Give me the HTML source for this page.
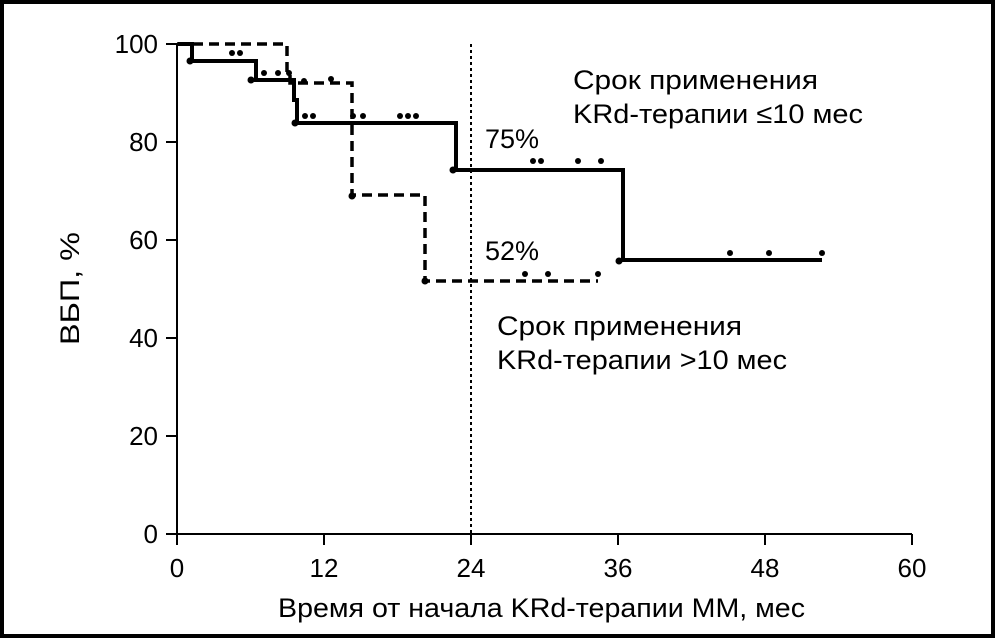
<!DOCTYPE html>
<html><head><meta charset="utf-8"><style>
html,body{margin:0;padding:0;background:#fff}
svg{display:block}
text{font-family:"Liberation Sans",sans-serif;fill:#000}
</style></head><body>
<svg width="995" height="638" viewBox="0 0 995 638" xmlns="http://www.w3.org/2000/svg">
<rect x="2" y="2" width="991" height="634" fill="#fff" stroke="#000" stroke-width="4"/>
<g stroke="#000" stroke-width="2" fill="none">
<line x1="177" y1="44" x2="177" y2="535"/>
<line x1="176" y1="534" x2="912" y2="534"/>
<line x1="166" y1="44" x2="177" y2="44"/>
<line x1="166" y1="142" x2="177" y2="142"/>
<line x1="166" y1="240" x2="177" y2="240"/>
<line x1="166" y1="338" x2="177" y2="338"/>
<line x1="166" y1="436" x2="177" y2="436"/>
<line x1="166" y1="534" x2="177" y2="534"/>
<line x1="177" y1="534" x2="177" y2="545"/>
<line x1="324" y1="534" x2="324" y2="545"/>
<line x1="471" y1="534" x2="471" y2="545"/>
<line x1="618" y1="534" x2="618" y2="545"/>
<line x1="765" y1="534" x2="765" y2="545"/>
<line x1="912" y1="534" x2="912" y2="545"/>
</g>
<line x1="471" y1="44" x2="471" y2="534" stroke="#000" stroke-width="2" stroke-dasharray="3,3"/>
<g font-size="26" text-anchor="end">
<text x="158" y="53">100</text><text x="158" y="151">80</text><text x="158" y="249">60</text>
<text x="158" y="347">40</text><text x="158" y="445">20</text><text x="158" y="543">0</text>
</g>
<g font-size="26" text-anchor="middle">
<text x="177" y="577">0</text><text x="324" y="577">12</text><text x="471" y="577">24</text>
<text x="618" y="577">36</text><text x="765" y="577">48</text><text x="912" y="577">60</text>
</g>
<text x="278" y="617" font-size="27" textLength="527" lengthAdjust="spacingAndGlyphs">Время от начала KRd-терапии ММ, мес</text>
<text transform="translate(79,345) rotate(-90)" font-size="27" textLength="113" lengthAdjust="spacingAndGlyphs">ВБП, %</text>
<g font-size="27">
<text x="573" y="89" textLength="245" lengthAdjust="spacingAndGlyphs">Срок применения</text>
<text x="573" y="123" textLength="290" lengthAdjust="spacingAndGlyphs">KRd-терапии ≤10 мес</text>
<text x="485" y="148">75%</text>
<text x="485" y="260">52%</text>
<text x="497" y="335" textLength="245" lengthAdjust="spacingAndGlyphs">Срок применения</text>
<text x="497" y="369" textLength="290" lengthAdjust="spacingAndGlyphs">KRd-терапии &gt;10 мес</text>
</g>
<polyline fill="none" stroke="#000" stroke-width="4" points="178,44 192,44 192,61 256,61 256,80 294,80 294,100 297,100 297,123 456,123 456,170 623,170 623,260 822,260"/>
<polyline fill="none" stroke="#000" stroke-width="3.5" stroke-dasharray="10,6" points="177,44 287,44 287,72 290,72 290,83 352,83 352,195 425,195 425,281 598,281"/>
<g fill="#000">
<circle cx="190" cy="61" r="3.5"/><circle cx="251" cy="80" r="3.5"/><circle cx="295" cy="123" r="3.5"/>
<circle cx="453" cy="170" r="3.5"/><circle cx="619" cy="261" r="3.5"/>
<circle cx="232" cy="53" r="3"/><circle cx="240" cy="53" r="3"/>
<circle cx="264" cy="73" r="3"/><circle cx="278" cy="73" r="3"/><circle cx="289" cy="73" r="3"/>
<circle cx="304" cy="81" r="3"/><circle cx="331" cy="79" r="3"/>
<circle cx="305" cy="116" r="3"/><circle cx="313" cy="116" r="3"/><circle cx="353" cy="116" r="3"/><circle cx="363" cy="116" r="3"/>
<circle cx="400" cy="116" r="3"/><circle cx="408" cy="116" r="3"/><circle cx="416" cy="116" r="3"/>
<circle cx="352" cy="196" r="3.5"/><circle cx="425" cy="281" r="3.5"/>
<circle cx="533" cy="161" r="3"/><circle cx="541" cy="161" r="3"/><circle cx="578" cy="161" r="3"/><circle cx="601" cy="161" r="3"/>
<circle cx="730" cy="253" r="3"/><circle cx="769" cy="253" r="3"/><circle cx="822" cy="253" r="3"/>
<circle cx="525" cy="274" r="3"/><circle cx="548" cy="274" r="3"/><circle cx="598" cy="274" r="3"/>
</g>
</svg>
</body></html>
